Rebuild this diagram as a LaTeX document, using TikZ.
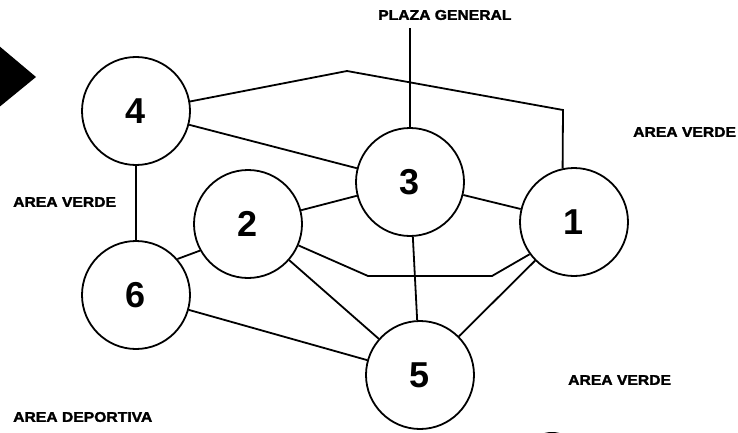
\documentclass[tikz,border=0pt]{standalone}
\usepackage{fontspec}
\setmainfont{Liberation Sans}
\newfontfamily\zonefont[FakeStretch=1.12,FakeBold=2]{Liberation Sans Bold}
\usetikzlibrary{positioning}
\tikzset{
  zona/.style={circle,draw=black,line width=1.8pt,minimum size=108pt,inner sep=0pt,font=\fontsize{36}{36}\selectfont\bfseries},
  lbl/.style={anchor=west,inner sep=0pt,font=\zonefont\fontsize{14}{14}\selectfont},
  via/.style={draw=black,line width=1.8pt,line join=miter},
}
\begin{document}
\begin{tikzpicture}[x=1pt,y=-1pt]
  \useasboundingbox (0,0) rectangle (738,433);
  % marcas
  \fill (-8,40) -- (36,77) -- (-8,113) -- cycle;
  \fill (552,442) ellipse [x radius=17,y radius=10];
  % zonas
  \node[zona] (n4) at (136,111) {4};
  \node[zona] (n3) at (410,182) {3};
  \node[zona] (n2) at (248,224) {2};
  \node[zona] (n6) at (136,295) {6};
  \node[zona] (n1) at (574,222) {1};
  \node[zona] (n5) at (420,375) {5};
  % textos
  \node[lbl] (plaza) at (378,15) {PLAZA GENERAL};
  \node[lbl] (verde1) at (633,132) {AREA VERDE};
  \node[lbl] (verde2) at (13,202) {AREA VERDE};
  \node[lbl] (verde3) at (568,380) {AREA VERDE};
  \node[lbl] (deport) at (13,417) {AREA DEPORTIVA};
  \coordinate (pg) at (409,28);
  \coordinate (k1) at (347,71);
  \coordinate (k2) at (563,110);
  \coordinate (k3) at (368,276);
  \coordinate (k4) at (492,276);
  % caminos
  \draw[via] (n3) -- (n3 |- pg);
  \draw[via] (n4.10) -- (k1) -- (k2) -- (n1.102);
  \draw[via] (n4) -- (n3);
  \draw[via] (n4) -- (n6);
  \draw[via] (n2) -- (n3);
  \draw[via] (n3) -- (n1);
  \draw[via] (n6.41) -- (n2.209);
  \draw[via] (n2.337) -- (k3) -- (k4) -- (n1.216);
  \draw[via] (n2) -- (n5);
  \draw[via] (n3) -- (n5);
  \draw[via] (n1) -- (n5);
  \draw[via] (n6) -- (n5);
\end{tikzpicture}
\end{document}
